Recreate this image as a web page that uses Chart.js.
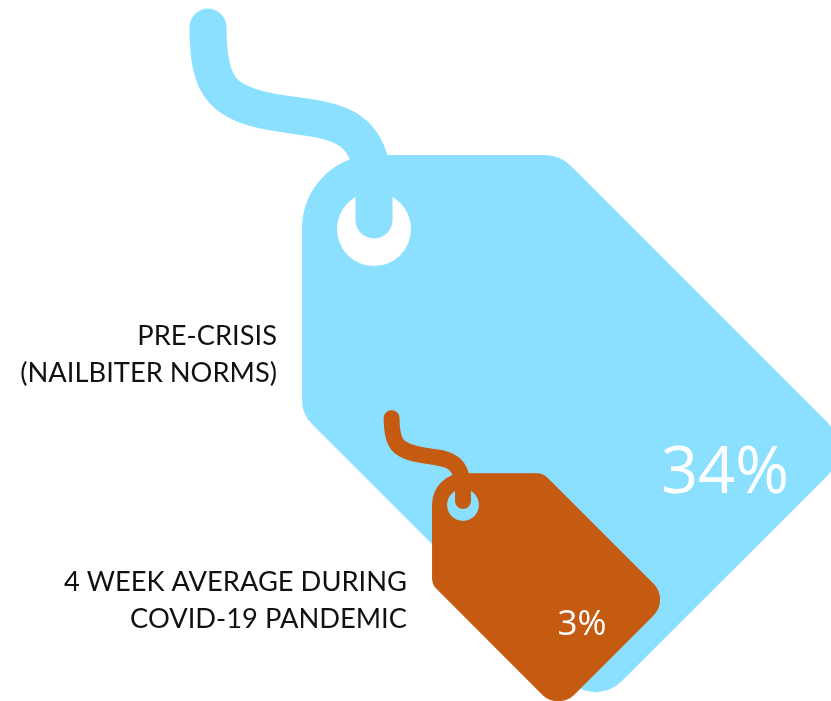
<!DOCTYPE html>
<html>
<head>
<meta charset="utf-8">
<title>Price tags</title>
<style>
  html, body { margin: 0; padding: 0; background: #fff; }
  canvas { display: block; }
</style>
<script src="https://cdn.jsdelivr.net/npm/chart.js@4"></script>
</head>
<body>
<canvas id="chart" width="831" height="701"></canvas>
<script>
const categories = [
  ['PRE-CRISIS', '(NAILBITER NORMS)'],
  ['4 WEEK AVERAGE DURING', 'COVID-19 PANDEMIC']
];
const values = [34, 3];

const tagColors = ['#8be0ff', '#c55a11'];
const tagScales = [1, 0.43]; // the tags are pictures, not drawn to strict area
const tipRadius = [37, 52];

// draws a tag on its own canvas, hole in the middle, so chart.js can use it as a pointStyle
function makeTag(color, scale, radius) {
  const half = 520 * scale;
  const c = document.createElement('canvas');
  c.width = c.height = Math.ceil(half * 2);
  const ctx = c.getContext('2d');
  ctx.translate(c.width / 2, c.height / 2);
  ctx.scale(scale, scale);
  ctx.fillStyle = color;
  ctx.strokeStyle = color;

  ctx.beginPath();
  ctx.moveTo(-72, 0);
  ctx.arcTo(-72, -74, 0, -74, 73);
  ctx.arcTo(186, -74, 480, 220, 36);
  ctx.arcTo(480, 220, 221.5, 478.5, radius);
  ctx.arcTo(221.5, 478.5, -72, 185, radius);
  ctx.arcTo(-72, 185, -72, 0, 34);
  ctx.closePath();
  ctx.moveTo(37, 0);
  ctx.arc(0, 0, 37, 0, Math.PI * 2);
  ctx.fill('evenodd');

  // string
  ctx.lineWidth = 37;
  ctx.lineCap = 'round';
  ctx.beginPath();
  ctx.moveTo(-166, -202);
  ctx.bezierCurveTo(-166, -140, -152, -124, -89, -115);
  ctx.bezierCurveTo(-39, -108, -2, -107, 0, -39);
  ctx.lineTo(0, -9);
  ctx.stroke();
  return c;
}

const tags = values.map((v, i) => makeTag(tagColors[i], tagScales[i], tipRadius[i]));

// category texts and value texts sit relative to the tag they belong to
const labelLayout = [
  { right: -97, baselines: [116, 153], size: 27.3 },
  { right: -56, baselines: [86, 123], size: 27.3 }
];
const valueLayout = [
  { dx: 351, dy: 264, size: 65 },
  { dx: 119, dy: 130, size: 35 }
];

const tagText = {
  id: 'tagText',
  afterDatasetsDraw(chart) {
    const { ctx } = chart;
    const points = chart.getDatasetMeta(0).data;
    ctx.save();
    points.forEach((pt, i) => {
      const lab = labelLayout[i];
      ctx.fillStyle = '#111';
      ctx.textAlign = 'right';
      ctx.textBaseline = 'alphabetic';
      ctx.font = lab.size + 'px Lato';
      categories[i].forEach((line, j) => {
        ctx.fillText(line, pt.x + lab.right, pt.y + lab.baselines[j]);
      });
      const val = valueLayout[i];
      ctx.fillStyle = '#fff';
      ctx.textAlign = 'center';
      ctx.font = val.size + 'px "Open Sans"';
      ctx.fillText(values[i] + '%', pt.x + val.dx, pt.y + val.dy);
    });
    ctx.restore();
  }
};

new Chart(document.getElementById('chart'), {
  type: 'scatter',
  data: {
    datasets: [{
      data: values.map((v, i) => ({ x: i, y: v })),
      pointStyle: tags,
      pointRadius: 10,
      pointHoverRadius: 10,
      clip: false
    }]
  },
  options: {
    responsive: false,
    animation: false,
    events: [],
    layout: { autoPadding: false, padding: 0 },
    scales: {
      // ranges put the two tag holes where they are in the picture
      x: { type: 'linear', display: false, min: -4.202, max: 5.135 },
      y: { type: 'linear', display: false, min: -19.03, max: 59.73 }
    },
    plugins: {
      legend: { display: false },
      tooltip: { enabled: false }
    }
  },
  plugins: [tagText]
});
</script>
</body>
</html>
